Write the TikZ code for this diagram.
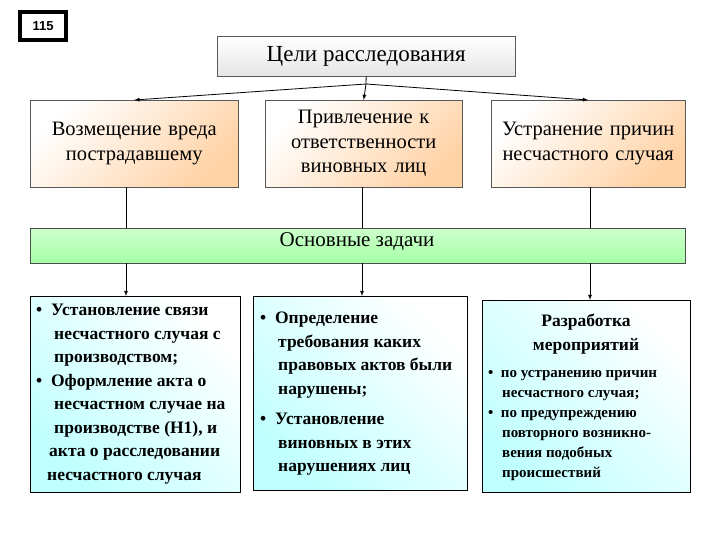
\documentclass[tikz,border=0pt]{standalone}
\usepackage{fontspec}
\setmainfont{Liberation Serif}
\newfontfamily\badgefont{Liberation Sans}
\begin{document}
\begin{tikzpicture}[x=1pt,y=-1pt,
  peach/.style={draw=gray!70!black, top color=white, bottom color=orange!35, shading angle=45, align=center, font=\fontsize{20.5}{24.5}\selectfont, anchor=north west},
  cyanbox/.style={draw=black, left color=cyan!25, right color=white, shading angle=135, anchor=north west, align=left},
  arr/.style={-latex, thick}, ln/.style={thick}]
\useasboundingbox (0,0) rectangle (720,540);
\node[fill=black, minimum width=50, minimum height=32, anchor=north west, inner sep=0] (badge) at (18,10) {};
\node[fill=white, minimum width=42, minimum height=24, inner sep=0, font=\badgefont\bfseries\fontsize{13}{14}\selectfont] (badgein) at (badge.center) {115};
\node[draw=gray!70!black, top color=white, bottom color=gray!20, minimum width=298, minimum height=40, anchor=north west, font=\fontsize{23}{26}\selectfont] (goal) at (217,36) {Цели расследования};
\node[peach, minimum width=208, minimum height=87, text width=205, inner sep=0] (b1) at (30,100) {Возмещение вреда\\пострадавшему};
\node[peach, minimum width=197, minimum height=87, text width=195, inner sep=0] (b2) at (265,100) {Привлечение к\\ответственности\\виновных лиц};
\node[peach, minimum width=194, minimum height=87, text width=194, inner sep=0] (b3) at (491,100) {Устранение причин\\несчастного случая};
\coordinate (fan) at (366,84);
\draw[ln] (goal.south) -- (fan);
\draw[arr] (fan) -- (b1.north);
\draw[arr] (fan) -- (b2.north);
\draw[arr] (fan) -- (b3.north);
\node[draw=gray!60!black, top color=green!20, bottom color=green!35, minimum width=655, minimum height=35, anchor=north west, inner sep=0] (tasks) at (30,228) {};
\node[font=\fontsize{21}{24}\selectfont, anchor=north] (tasklbl) at (357,229) {Основные задачи};
\draw[ln] (126,187) -- (126,228);
\draw[ln] (362,187) -- (362,228);
\draw[ln] (590,187) -- (590,228);
\node[cyanbox, minimum width=210, minimum height=196, inner sep=0] (c1) at (30,296) {};
\node[anchor=north west, font=\bfseries\fontsize{17.5}{23.5}\selectfont, align=left, inner sep=0] (t1) at (36,304) {•\ \ Установление связи\\\hspace{18pt}несчастного случая с\\\hspace{18pt}производством;\\•\ \ Оформление акта о\\\hspace{18pt}несчастном случае на\\\hspace{18pt}производстве (Н1), и\\\hspace{13pt}акта о расследовании\\\hspace{11pt}несчастного случая};
\node[cyanbox, minimum width=214, minimum height=194, inner sep=0] (c2) at (253,296) {};
\node[anchor=north west, font=\bfseries\fontsize{17.5}{23.5}\selectfont, align=left, inner sep=0] (t2) at (260,312) {•\ \ Определение\\\hspace{18pt}требования каких\\\hspace{18pt}правовых актов были\\\hspace{18pt}нарушены;\\[7pt]•\ \ Установление\\\hspace{18pt}виновных в этих\\\hspace{18pt}нарушениях лиц};
\node[cyanbox, minimum width=208, minimum height=192, inner sep=0] (c3) at (482,300) {};
\node[anchor=north, font=\bfseries\fontsize{17.5}{24}\selectfont, align=center, inner sep=0] (t3h) at (586,314) {Разработка\\мероприятий};
\node[anchor=north west, font=\bfseries\fontsize{15}{20}\selectfont, align=left, inner sep=0] (t3) at (488,370) {•\ \ по устранению причин\\\hspace{14pt}несчастного случая;\\•\ \ по предупреждению\\\hspace{14pt}повторного возникно-\\\hspace{14pt}вения подобных\\\hspace{14pt}происшествий};
\draw[arr] (126,263) -- (126,296);
\draw[arr] (362,263) -- (362,296);
\draw[arr] (590,263) -- (590,300);
\end{tikzpicture}
\end{document}
